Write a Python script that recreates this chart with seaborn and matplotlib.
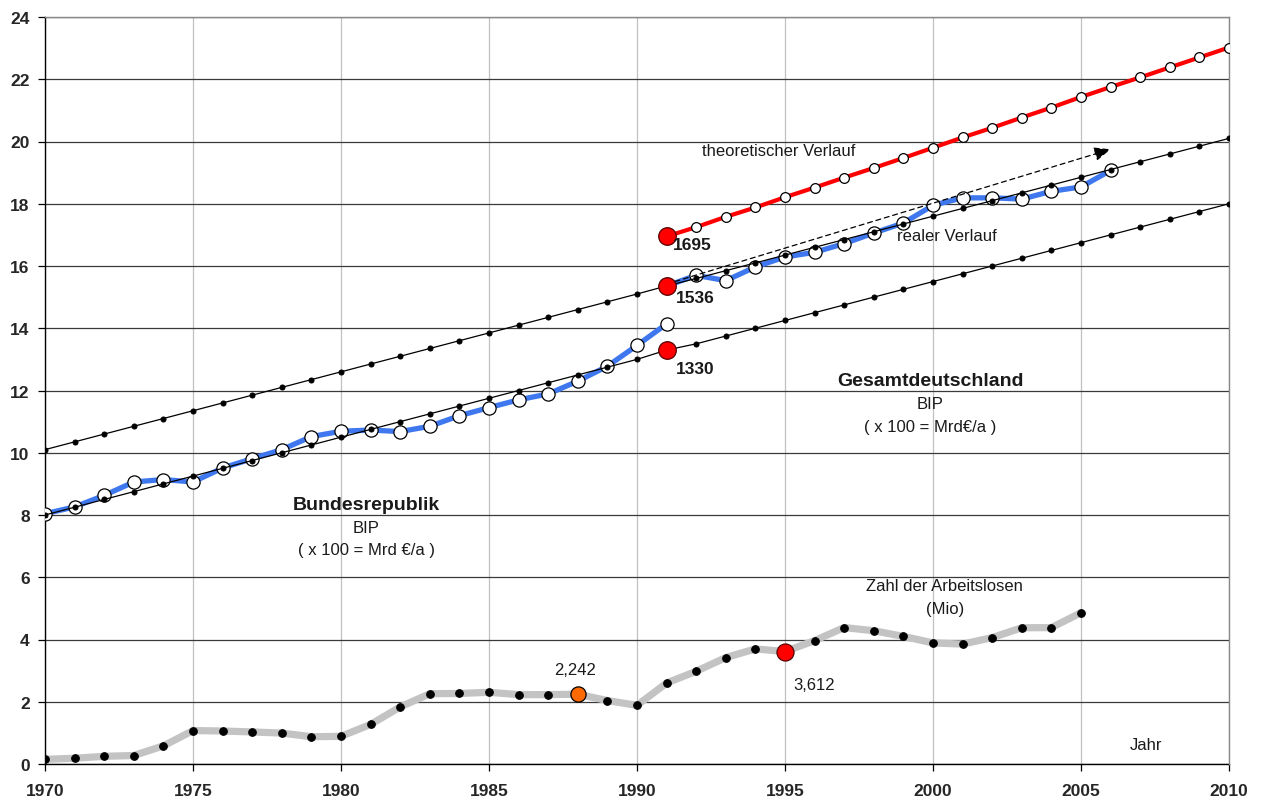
import numpy as np
import pandas as pd
import matplotlib
matplotlib.use("Agg")
import matplotlib.pyplot as plt
import seaborn as sns

# ---------------- data ----------------
years_brd = list(range(1970, 1992))
bip_brd = [8.04, 8.26, 8.63, 9.06, 9.14, 9.06, 9.51, 9.81, 10.10, 10.52, 10.69,
           10.73, 10.68, 10.85, 11.19, 11.45, 11.70, 11.89, 12.30, 12.78, 13.45, 14.14]

years_ges = list(range(1991, 2007))
bip_ges = [15.36, 15.70, 15.53, 15.97, 16.29, 16.44, 16.72, 17.06, 17.38, 17.95,
           18.19, 18.19, 18.15, 18.40, 18.54, 19.07]

years_theo = list(range(1991, 2011))
bip_theo = [16.95, 17.25, 17.58, 17.88, 18.21, 18.52, 18.84, 19.15, 19.47, 19.80,
            20.13, 20.44, 20.77, 21.09, 21.43, 21.75, 22.06, 22.38, 22.70, 23.02]

years_trend = list(range(1970, 2011))
trend_upper = [10.10, 10.35, 10.60, 10.85, 11.10, 11.35, 11.60, 11.85, 12.10, 12.35,
               12.60, 12.85, 13.10, 13.35, 13.60, 13.85, 14.10, 14.35, 14.60, 14.85,
               15.10, 15.36, 15.60, 15.85, 16.10, 16.35, 16.60, 16.85, 17.10, 17.35,
               17.60, 17.85, 18.10, 18.35, 18.60, 18.85, 19.10, 19.35, 19.60, 19.85, 20.10]
trend_lower = [8.00, 8.25, 8.50, 8.75, 9.00, 9.25, 9.50, 9.75, 10.00, 10.25,
               10.50, 10.75, 11.00, 11.25, 11.50, 11.75, 12.00, 12.25, 12.50, 12.75,
               13.00, 13.30, 13.50, 13.75, 14.00, 14.25, 14.50, 14.75, 15.00, 15.25,
               15.50, 15.75, 16.00, 16.25, 16.50, 16.75, 17.00, 17.25, 17.50, 17.75, 18.00]

years_al = list(range(1970, 2006))
arbeitslose = [0.149, 0.185, 0.246, 0.273, 0.582, 1.074, 1.060, 1.030, 0.993, 0.876,
               0.889, 1.272, 1.833, 2.258, 2.266, 2.304, 2.228, 2.229, 2.242, 2.038,
               1.883, 2.602, 2.979, 3.419, 3.698, 3.612, 3.965, 4.384, 4.281, 4.100,
               3.890, 3.853, 4.061, 4.377, 4.381, 4.861]

mark_years = [1991, 1991, 1991]
mark_vals = [16.95, 15.36, 13.30]
mark_labels = ["1695", "1536", "1330"]

x_ticks = [1970, 1975, 1980, 1985, 1990, 1995, 2000, 2005, 2010]
y_ticks = list(range(0, 26, 2))

# label placement (annotation positions, data units)
mark_label_pos = [(1991.2, 16.70), (1991.3, 15.00), (1991.3, 12.70)]

# ---------------- style ----------------
sns.set_style("white")
plt.rcParams['font.family'] = ['Liberation Sans', 'DejaVu Sans']

fig = plt.figure(figsize=(12.61, 8.03), dpi=100)
ax = fig.add_axes([45 / 1261, 1 - 765 / 803, (1229 - 45) / 1261, (765 - 18) / 803])

BLUE = "#3f78ee"
RED = "#ff0000"
GREY = "#c3c3c3"

# grid
for y in y_ticks:
    ax.axhline(y, color="#3a3a3a", lw=0.9, zorder=1)
for x in x_ticks:
    ax.axvline(x, color="#c0c0c0", lw=0.9, zorder=0.5)

# unemployment (grey)
sns.lineplot(x=years_al, y=arbeitslose, ax=ax, color=GREY, lw=5.2, zorder=2,
             marker="o", markersize=5.5, markerfacecolor="black",
             markeredgecolor="black", estimator=None, sort=False)

# blue real series
sns.lineplot(x=years_brd, y=bip_brd, ax=ax, color=BLUE, lw=3.8, zorder=3,
             marker="o", markersize=9.5, markerfacecolor="white",
             markeredgecolor="black", markeredgewidth=0.9, estimator=None, sort=False)
sns.lineplot(x=years_ges, y=bip_ges, ax=ax, color=BLUE, lw=3.8, zorder=3,
             marker="o", markersize=9.5, markerfacecolor="white",
             markeredgecolor="black", markeredgewidth=0.9, estimator=None, sort=False)

# theoretical red
sns.lineplot(x=years_theo, y=bip_theo, ax=ax, color=RED, lw=3.0, zorder=3,
             marker="o", markersize=7, markerfacecolor="white",
             markeredgecolor="black", markeredgewidth=0.9, estimator=None, sort=False)

# black trend lines
for tr in (trend_upper, trend_lower):
    sns.lineplot(x=years_trend, y=tr, ax=ax, color="black", lw=0.9, zorder=4,
                 marker="o", markersize=3.6, markerfacecolor="black",
                 markeredgecolor="black", estimator=None, sort=False)

# special points
sns.scatterplot(x=mark_years, y=mark_vals, ax=ax, color=RED, s=160,
                edgecolor="#550000", linewidth=0.9, zorder=6, legend=False)
sns.scatterplot(x=[1988], y=[arbeitslose[years_al.index(1988)]], ax=ax,
                color="#ff6a00", s=120, edgecolor="black", linewidth=0.9, zorder=6, legend=False)
sns.scatterplot(x=[1995], y=[arbeitslose[years_al.index(1995)]], ax=ax,
                color=RED, s=150, edgecolor="#550000", linewidth=0.9, zorder=6, legend=False)

# dashed arrow
arrow_start = (1991.0, 15.42)
arrow_end = (2006.0, 19.75)
ax.annotate("", xy=arrow_end, xytext=arrow_start,
            arrowprops=dict(arrowstyle="-|>,head_length=1.0,head_width=0.42",
                            linestyle=(0, (4, 3)), color="black", lw=0.9,
                            shrinkA=0, shrinkB=0), zorder=5)

# labels
txtc = "#1a1a1a"
for (lx, ly), lab in zip(mark_label_pos, mark_labels):
    ax.text(lx, ly, lab, fontsize=12.5, fontweight="bold",
            ha="left", va="center", color=txtc, zorder=7)

ax.text(1992.2, 19.72, "theoretischer Verlauf", fontsize=12, ha="left", va="center", color=txtc)
ax.text(1998.8, 16.98, "realer Verlauf", fontsize=12, ha="left", va="center", color=txtc)

ax.text(1999.9, 12.32, "Gesamtdeutschland", fontsize=14, fontweight="bold", ha="center", va="center", color=txtc)
ax.text(1999.9, 11.58, "BIP", fontsize=12, ha="center", va="center", color=txtc)
ax.text(1999.9, 10.84, "( x 100 = Mrd€/a )", fontsize=12, ha="center", va="center", color=txtc)

ax.text(1980.85, 8.33, "Bundesrepublik", fontsize=14, fontweight="bold", ha="center", va="center", color=txtc)
ax.text(1980.85, 7.59, "BIP", fontsize=12, ha="center", va="center", color=txtc)
ax.text(1980.85, 6.88, "( x 100 = Mrd €/a )", fontsize=12, ha="center", va="center", color=txtc)

ax.text(2000.4, 5.72, "Zahl der Arbeitslosen", fontsize=12, ha="center", va="center", color=txtc)
ax.text(2000.4, 4.98, "(Mio)", fontsize=12, ha="center", va="center", color=txtc)

ax.text(1987.9, 3.05, "2,242", fontsize=12, ha="center", va="center", color=txtc)
ax.text(1996.0, 2.57, "3,612", fontsize=12, ha="center", va="center", color=txtc)
ax.text(2007.2, 0.64, "Jahr", fontsize=12, ha="center", va="center", color=txtc)

# axes
ax.set_xlim(1970, 2010)
ax.set_ylim(0, 24)
ax.set_xticks(x_ticks)
ax.set_yticks(y_ticks)
ax.set_xticklabels([str(v) for v in x_ticks], fontsize=12.5, fontweight="bold")
ax.set_yticklabels([str(v) for v in y_ticks], fontsize=12.5, fontweight="bold")
ax.tick_params(axis="both", direction="out", length=5, width=0.9, color="black",
               left=True, bottom=True)
ax.tick_params(axis="x", pad=9)
ax.tick_params(axis="y", pad=6)
ax.set_xlabel("")
ax.set_ylabel("")
for s in ("left", "bottom"):
    ax.spines[s].set_color("black")
    ax.spines[s].set_linewidth(1.0)
for s in ("top", "right"):
    ax.spines[s].set_color("#888888")
    ax.spines[s].set_linewidth(1.0)
ax.spines["bottom"].set_zorder(2)

fig.savefig("out.png", dpi=100)
